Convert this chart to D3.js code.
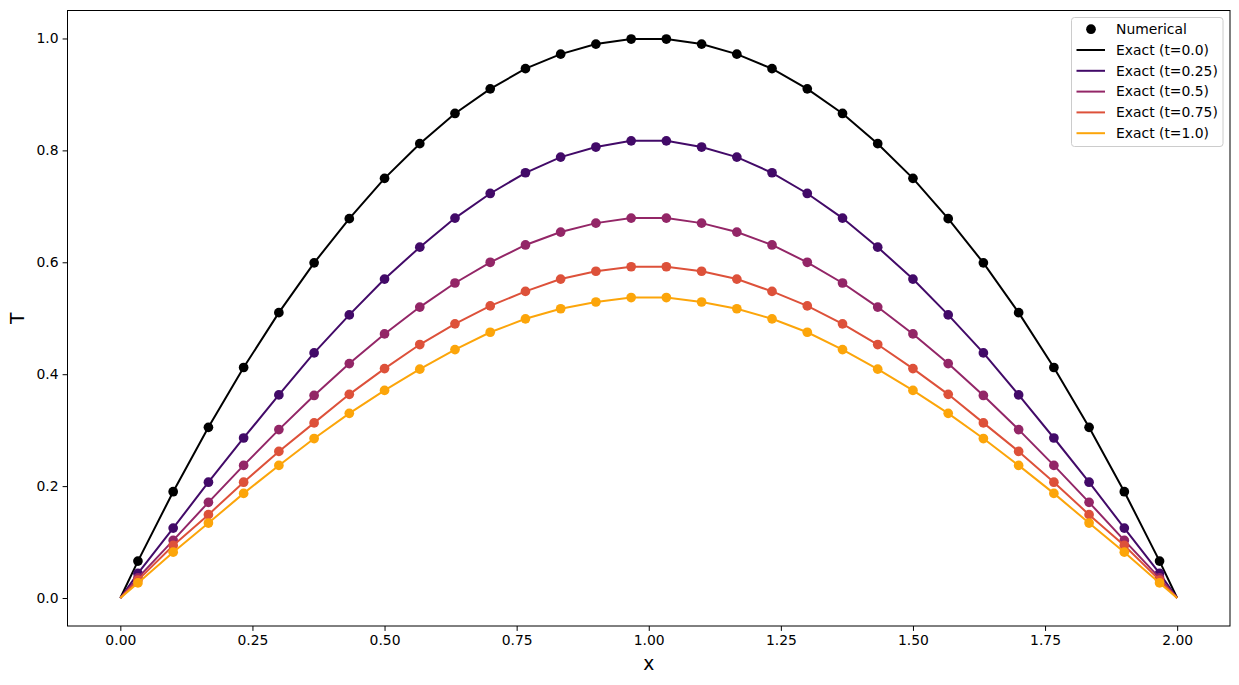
<!DOCTYPE html>
<html>
<head>
<meta charset="utf-8">
<script src="https://cdn.jsdelivr.net/npm/d3@7"></script>
<style>
  body { margin: 0; background: #fff; }
  svg text { font-family: "DejaVu Sans", sans-serif; fill: #000; }
</style>
</head>
<body>
<div id="chart"></div>
<script>
// grid points (cell centres) where the numerical solution is shown
let xPoints = [0.0333, 0.1, 0.1667, 0.2333, 0.3, 0.3667, 0.4333, 0.5, 0.5667, 0.6333,
               0.7, 0.7667, 0.8333, 0.9, 0.9667, 1.0333, 1.1, 1.1667, 1.2333, 1.3,
               1.3667, 1.4333, 1.5, 1.5667, 1.6333, 1.7, 1.7667, 1.8333, 1.9, 1.9667];
let times = ["0.0", "0.25", "0.5", "0.75", "1.0"];
let colors = ["#000000", "#420a68", "#932667", "#dd513a", "#fca50a"];

// values, one array per time
let T_t0 = [0.066, 0.190, 0.305, 0.412, 0.510, 0.599, 0.678, 0.750, 0.812, 0.866,
            0.910, 0.946, 0.972, 0.990, 0.999, 0.999, 0.990, 0.972, 0.946, 0.910,
            0.866, 0.812, 0.750, 0.678, 0.599, 0.510, 0.412, 0.305, 0.190, 0.066];
let T_t025 = [0.044, 0.125, 0.207, 0.286, 0.363, 0.438, 0.506, 0.570, 0.627, 0.679,
              0.723, 0.760, 0.788, 0.806, 0.817, 0.817, 0.806, 0.788, 0.760, 0.723,
              0.679, 0.627, 0.570, 0.506, 0.438, 0.363, 0.286, 0.207, 0.125, 0.044];
let T_t05 = [0.036, 0.103, 0.171, 0.237, 0.301, 0.362, 0.419, 0.472, 0.520, 0.563,
             0.600, 0.631, 0.654, 0.670, 0.679, 0.679, 0.670, 0.654, 0.631, 0.600,
             0.563, 0.520, 0.472, 0.419, 0.362, 0.301, 0.237, 0.171, 0.103, 0.036];
let T_t075 = [0.032, 0.094, 0.149, 0.207, 0.262, 0.313, 0.364, 0.410, 0.453, 0.490,
              0.522, 0.548, 0.570, 0.584, 0.592, 0.592, 0.584, 0.570, 0.548, 0.522,
              0.490, 0.453, 0.410, 0.364, 0.313, 0.262, 0.207, 0.149, 0.094, 0.032];
let T_t1 = [0.027, 0.082, 0.134, 0.187, 0.237, 0.285, 0.330, 0.371, 0.409, 0.444,
            0.475, 0.499, 0.517, 0.529, 0.537, 0.537, 0.529, 0.517, 0.499, 0.475,
            0.444, 0.409, 0.371, 0.330, 0.285, 0.237, 0.187, 0.134, 0.082, 0.027];

let xTicks = [0, 0.25, 0.5, 0.75, 1.0, 1.25, 1.5, 1.75, 2.0];
let yTicks = [0, 0.2, 0.4, 0.6, 0.8, 1.0];

let series = [T_t0, T_t025, T_t05, T_t075, T_t1];

let W = 1239, H = 685;
let margin = {left: 67.5, top: 10.5, right: 9, bottom: 59};
let dotR = 4.85;

let svg = d3.select("#chart").append("svg")
    .attr("width", W).attr("height", H);

let xScale = d3.scaleLinear().domain([-0.1, 2.1]).range([margin.left, W - margin.right]);
let yScale = d3.scaleLinear().domain([-0.05, 1.05]).range([H - margin.bottom, margin.top]);

//the exact curves run from the walls (T = 0) through the grid points
let line = d3.line()
    .x(d => xScale(d[0]))
    .y(d => yScale(d[1]));

let plot = svg.append("g");
series.forEach(function(vals, k){
    let pts = [[0, 0]].concat(xPoints.map((x, i) => [x, vals[i]])).concat([[2, 0]]);
    plot.append("path")
        .datum(pts)
        .attr("d", line)
        .attr("fill", "none")
        .attr("stroke", colors[k])
        .attr("stroke-width", 2);
    plot.selectAll(".dot" + k)
        .data(xPoints.map((x, i) => [x, vals[i]]))
        .enter().append("circle")
        .attr("class", "dot" + k)
        .attr("cx", d => xScale(d[0]))
        .attr("cy", d => yScale(d[1]))
        .attr("r", dotR)
        .attr("fill", colors[k]);
});

//axes
let xAxis = d3.axisBottom(xScale).tickValues(xTicks).tickFormat(d3.format(".2f")).tickSize(4.9).tickPadding(4);
let yAxis = d3.axisLeft(yScale).tickValues(yTicks).tickFormat(d3.format(".1f")).tickSize(4.9).tickPadding(4);

let gx = svg.append("g").attr("transform", "translate(0," + (H - margin.bottom) + ")").call(xAxis);
let gy = svg.append("g").attr("transform", "translate(" + margin.left + ",0)").call(yAxis);
[gx, gy].forEach(function(g){
    g.select(".domain").remove();
    g.selectAll("line").attr("stroke", "#000").attr("stroke-width", 1);
    g.selectAll("text").style("font-size", "13.9px").style("font-family", "DejaVu Sans");
});

//frame
svg.append("rect")
    .attr("x", margin.left).attr("y", margin.top)
    .attr("width", W - margin.right - margin.left)
    .attr("height", H - margin.bottom - margin.top)
    .attr("fill", "none").attr("stroke", "#000").attr("stroke-width", 1);

//axis labels
svg.append("text")
    .attr("x", xScale(1)).attr("y", 670)
    .attr("text-anchor", "middle")
    .style("font-size", "18.7px")
    .text("x");
svg.append("text")
    .attr("transform", "translate(24," + yScale(0.5) + ") rotate(-90)")
    .attr("text-anchor", "middle")
    .style("font-size", "18.7px")
    .text("T");

//legend
let legend = svg.append("g").attr("transform", "translate(1071.5,17.5)");
legend.append("rect")
    .attr("width", 151.5).attr("height", 129)
    .attr("rx", 3)
    .attr("fill", "#fff").attr("fill-opacity", 0.8)
    .attr("stroke", "#cccccc");

let rowH = 20.8;
legend.append("circle")
    .attr("cx", 19.5).attr("cy", 11.7).attr("r", dotR).attr("fill", "#000");
legend.append("text")
    .attr("x", 44.5).attr("y", 11.7).attr("dy", "0.35em")
    .style("font-size", "13.9px")
    .text("Numerical");
times.forEach(function(t, k){
    let yy = 11.7 + rowH * (k + 1);
    legend.append("line")
        .attr("x1", 5).attr("x2", 33.5)
        .attr("y1", yy).attr("y2", yy)
        .attr("stroke", colors[k]).attr("stroke-width", 2);
    legend.append("text")
        .attr("x", 44.5).attr("y", yy).attr("dy", "0.35em")
        .style("font-size", "13.9px")
        .text("Exact (t=" + t + ")");
});
</script>
</body>
</html>
